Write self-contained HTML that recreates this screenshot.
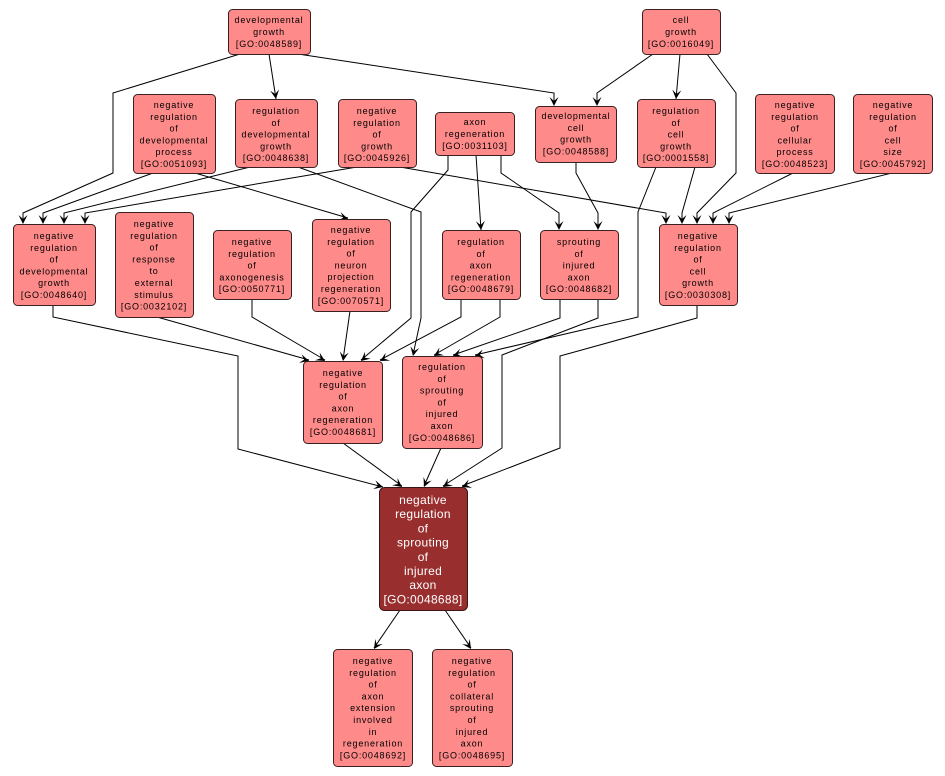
<!DOCTYPE html>
<html><head><meta charset="utf-8"><style>
html,body{margin:0;padding:0;background:#fff;}
svg{display:block;}
.n rect{fill:#ff8a8a;stroke:#3a2020;stroke-width:1;}
.n text{font-family:"Liberation Sans",Arial,sans-serif;font-size:9px;letter-spacing:0.8px;fill:#000;text-anchor:middle;}
.m rect{fill:#992e2e;stroke:#3a1515;stroke-width:1;}
.m text{font-family:"Liberation Sans",Arial,sans-serif;font-size:12px;letter-spacing:0.3px;fill:#fff;text-anchor:middle;}
.e polyline{fill:none;stroke:#000;stroke-width:1;}
.a polygon{fill:#000;}
</style></head><body>
<svg width="945" height="776" viewBox="0 0 945 776" xmlns="http://www.w3.org/2000/svg">
<g class="e">
<polyline points="240,54 113,93 113,173 23,213 23,222"/>
<polyline points="269,54 276,99"/>
<polyline points="298,54 554,93 554,104"/>
<polyline points="653,54 597,93 597,104"/>
<polyline points="680,54 676,99"/>
<polyline points="707,54 736,93 736,173 697,213 697,222"/>
<polyline points="153,173 43,213 43,222"/>
<polyline points="250,167 64,213 64,222"/>
<polyline points="357,167 85,213 85,222"/>
<polyline points="195,173 348,218"/>
<polyline points="298,167 421,212 421,318 413,355"/>
<polyline points="400,167 666,213 666,222"/>
<polyline points="448,155 448,170 411,212 411,318 361,360"/>
<polyline points="476,155 481,230"/>
<polyline points="501,155 501,173 559,213 559,228"/>
<polyline points="576,162 576,173 598,213 598,228"/>
<polyline points="695,167 682,213 682,222"/>
<polyline points="656,167 638,212 638,317 475,355"/>
<polyline points="793,173 713,213 713,222"/>
<polyline points="892,173 729,213 729,222"/>
<polyline points="53,305 53,317 238,356 238,449 383,487"/>
<polyline points="157,317 309,360"/>
<polyline points="252,299 252,317 325,360"/>
<polyline points="350,311 343,360"/>
<polyline points="461,299 461,317 380,360"/>
<polyline points="500,299 500,317 434,355"/>
<polyline points="560,299 560,318 453,355"/>
<polyline points="598,299 598,318 502,355 502,448 443,486"/>
<polyline points="697,305 697,318 560,356 560,448 462,486"/>
<polyline points="343,443 402,486"/>
<polyline points="441,448 424,486"/>
<polyline points="400,610 374,648"/>
<polyline points="445,610 471,648"/>
</g>
<g class="a">
<g transform="translate(23,224) rotate(90)"><polygon points="0,0 -9,-4.5 -5,0 -9,4.5"/></g>
<g transform="translate(43,224) rotate(90)"><polygon points="0,0 -9,-4.5 -5,0 -9,4.5"/></g>
<g transform="translate(64,224) rotate(90)"><polygon points="0,0 -9,-4.5 -5,0 -9,4.5"/></g>
<g transform="translate(85,224) rotate(90)"><polygon points="0,0 -9,-4.5 -5,0 -9,4.5"/></g>
<g transform="translate(276,99) rotate(81.2)"><polygon points="0,0 -9,-4.5 -5,0 -9,4.5"/></g>
<g transform="translate(554,106) rotate(90)"><polygon points="0,0 -9,-4.5 -5,0 -9,4.5"/></g>
<g transform="translate(597,106) rotate(90)"><polygon points="0,0 -9,-4.5 -5,0 -9,4.5"/></g>
<g transform="translate(676,99) rotate(95.1)"><polygon points="0,0 -9,-4.5 -5,0 -9,4.5"/></g>
<g transform="translate(666,224) rotate(90)"><polygon points="0,0 -9,-4.5 -5,0 -9,4.5"/></g>
<g transform="translate(682,224) rotate(90)"><polygon points="0,0 -9,-4.5 -5,0 -9,4.5"/></g>
<g transform="translate(697,224) rotate(90)"><polygon points="0,0 -9,-4.5 -5,0 -9,4.5"/></g>
<g transform="translate(713,224) rotate(90)"><polygon points="0,0 -9,-4.5 -5,0 -9,4.5"/></g>
<g transform="translate(729,224) rotate(90)"><polygon points="0,0 -9,-4.5 -5,0 -9,4.5"/></g>
<g transform="translate(348,219) rotate(16.4)"><polygon points="0,0 -9,-4.5 -5,0 -9,4.5"/></g>
<g transform="translate(481,230) rotate(86.2)"><polygon points="0,0 -9,-4.5 -5,0 -9,4.5"/></g>
<g transform="translate(559,230) rotate(90)"><polygon points="0,0 -9,-4.5 -5,0 -9,4.5"/></g>
<g transform="translate(598,230) rotate(90)"><polygon points="0,0 -9,-4.5 -5,0 -9,4.5"/></g>
<g transform="translate(413,356) rotate(101.9)"><polygon points="0,0 -9,-4.5 -5,0 -9,4.5"/></g>
<g transform="translate(434,356) rotate(149.4)"><polygon points="0,0 -9,-4.5 -5,0 -9,4.5"/></g>
<g transform="translate(453,356) rotate(160.4)"><polygon points="0,0 -9,-4.5 -5,0 -9,4.5"/></g>
<g transform="translate(475,356) rotate(166.5)"><polygon points="0,0 -9,-4.5 -5,0 -9,4.5"/></g>
<g transform="translate(309,361) rotate(16)"><polygon points="0,0 -9,-4.5 -5,0 -9,4.5"/></g>
<g transform="translate(325,361) rotate(31.1)"><polygon points="0,0 -9,-4.5 -5,0 -9,4.5"/></g>
<g transform="translate(343,361) rotate(98)"><polygon points="0,0 -9,-4.5 -5,0 -9,4.5"/></g>
<g transform="translate(361,361) rotate(139.9)"><polygon points="0,0 -9,-4.5 -5,0 -9,4.5"/></g>
<g transform="translate(380,361) rotate(151.5)"><polygon points="0,0 -9,-4.5 -5,0 -9,4.5"/></g>
<g transform="translate(383,487) rotate(14.7)"><polygon points="0,0 -9,-4.5 -5,0 -9,4.5"/></g>
<g transform="translate(402,487) rotate(36.7)"><polygon points="0,0 -9,-4.5 -5,0 -9,4.5"/></g>
<g transform="translate(424,487) rotate(113.6)"><polygon points="0,0 -9,-4.5 -5,0 -9,4.5"/></g>
<g transform="translate(443,487) rotate(146.5)"><polygon points="0,0 -9,-4.5 -5,0 -9,4.5"/></g>
<g transform="translate(462,487) rotate(158.3)"><polygon points="0,0 -9,-4.5 -5,0 -9,4.5"/></g>
<g transform="translate(374,649) rotate(123.7)"><polygon points="0,0 -9,-4.5 -5,0 -9,4.5"/></g>
<g transform="translate(471,649) rotate(56.3)"><polygon points="0,0 -9,-4.5 -5,0 -9,4.5"/></g>
</g>

<!-- nodes -->
<g class="n">
<rect x="228.5" y="9.5" width="82" height="45" rx="4"/>
<text x="269" y="23">developmental</text><text x="269" y="35">growth</text><text x="269" y="47">[GO:0048589]</text>

<rect x="642.5" y="9.5" width="78" height="45" rx="4"/>
<text x="681" y="23">cell</text><text x="681" y="35">growth</text><text x="681" y="47">[GO:0016049]</text>

<rect x="133.5" y="94.5" width="82" height="79" rx="4"/>
<text x="174" y="108">negative</text><text x="174" y="119.8">regulation</text><text x="174" y="131.6">of</text><text x="174" y="143.4">developmental</text><text x="174" y="155.2">process</text><text x="174" y="167">[GO:0051093]</text>

<rect x="235.5" y="99.5" width="82" height="68" rx="4"/>
<text x="276" y="114">regulation</text><text x="276" y="125.8">of</text><text x="276" y="137.6">developmental</text><text x="276" y="149.4">growth</text><text x="276" y="161.2">[GO:0048638]</text>

<rect x="338.5" y="99.5" width="78" height="68" rx="4"/>
<text x="377" y="114">negative</text><text x="377" y="125.8">regulation</text><text x="377" y="137.6">of</text><text x="377" y="149.4">growth</text><text x="377" y="161.2">[GO:0045926]</text>

<rect x="435.5" y="112.5" width="79" height="43" rx="4"/>
<text x="475" y="125">axon</text><text x="475" y="137">regeneration</text><text x="475" y="149">[GO:0031103]</text>

<rect x="535.5" y="106.5" width="81" height="56" rx="4"/>
<text x="576" y="119">developmental</text><text x="576" y="130.8">cell</text><text x="576" y="142.6">growth</text><text x="576" y="154.4">[GO:0048588]</text>

<rect x="637.5" y="99.5" width="78" height="68" rx="4"/>
<text x="676" y="114">regulation</text><text x="676" y="125.8">of</text><text x="676" y="137.6">cell</text><text x="676" y="149.4">growth</text><text x="676" y="161.2">[GO:0001558]</text>

<rect x="755.5" y="94.5" width="79" height="79" rx="4"/>
<text x="795" y="108">negative</text><text x="795" y="119.8">regulation</text><text x="795" y="131.6">of</text><text x="795" y="143.4">cellular</text><text x="795" y="155.2">process</text><text x="795" y="167">[GO:0048523]</text>

<rect x="853.5" y="94.5" width="79" height="79" rx="4"/>
<text x="893" y="108">negative</text><text x="893" y="119.8">regulation</text><text x="893" y="131.6">of</text><text x="893" y="143.4">cell</text><text x="893" y="155.2">size</text><text x="893" y="167">[GO:0045792]</text>

<rect x="13.5" y="224.5" width="82" height="81" rx="4"/>
<text x="54" y="239">negative</text><text x="54" y="250.8">regulation</text><text x="54" y="262.6">of</text><text x="54" y="274.4">developmental</text><text x="54" y="286.2">growth</text><text x="54" y="298">[GO:0048640]</text>

<rect x="115.5" y="212.5" width="78" height="105" rx="4"/>
<text x="154" y="227">negative</text><text x="154" y="238.8">regulation</text><text x="154" y="250.6">of</text><text x="154" y="262.4">response</text><text x="154" y="274.2">to</text><text x="154" y="286">external</text><text x="154" y="297.8">stimulus</text><text x="154" y="309.6">[GO:0032102]</text>

<rect x="213.5" y="230.5" width="78" height="69" rx="4"/>
<text x="252" y="245">negative</text><text x="252" y="256.8">regulation</text><text x="252" y="268.6">of</text><text x="252" y="280.4">axonogenesis</text><text x="252" y="292.2">[GO:0050771]</text>

<rect x="312.5" y="219.5" width="78" height="92" rx="4"/>
<text x="351" y="233">negative</text><text x="351" y="244.8">regulation</text><text x="351" y="256.6">of</text><text x="351" y="268.4">neuron</text><text x="351" y="280.2">projection</text><text x="351" y="292">regeneration</text><text x="351" y="303.8">[GO:0070571]</text>

<rect x="442.5" y="230.5" width="78" height="69" rx="4"/>
<text x="481" y="245">regulation</text><text x="481" y="256.8">of</text><text x="481" y="268.6">axon</text><text x="481" y="280.4">regeneration</text><text x="481" y="292.2">[GO:0048679]</text>

<rect x="540.5" y="230.5" width="78" height="69" rx="4"/>
<text x="579" y="245">sprouting</text><text x="579" y="256.8">of</text><text x="579" y="268.6">injured</text><text x="579" y="280.4">axon</text><text x="579" y="292.2">[GO:0048682]</text>

<rect x="659.5" y="224.5" width="78" height="81" rx="4"/>
<text x="698" y="239">negative</text><text x="698" y="250.8">regulation</text><text x="698" y="262.6">of</text><text x="698" y="274.4">cell</text><text x="698" y="286.2">growth</text><text x="698" y="298">[GO:0030308]</text>

<rect x="303.5" y="361.5" width="79" height="82" rx="4"/>
<text x="343" y="376">negative</text><text x="343" y="387.8">regulation</text><text x="343" y="399.6">of</text><text x="343" y="411.4">axon</text><text x="343" y="423.2">regeneration</text><text x="343" y="435">[GO:0048681]</text>

<rect x="402.5" y="356.5" width="80" height="92" rx="4"/>
<text x="442" y="370">regulation</text><text x="442" y="381.8">of</text><text x="442" y="393.6">sprouting</text><text x="442" y="405.4">of</text><text x="442" y="417.2">injured</text><text x="442" y="429">axon</text><text x="442" y="440.8">[GO:0048686]</text>

<rect x="333.5" y="649.5" width="79" height="117" rx="4"/>
<text x="373" y="664">negative</text><text x="373" y="675.8">regulation</text><text x="373" y="687.6">of</text><text x="373" y="699.4">axon</text><text x="373" y="711.2">extension</text><text x="373" y="723">involved</text><text x="373" y="734.8">in</text><text x="373" y="746.6">regeneration</text><text x="373" y="758.4">[GO:0048692]</text>

<rect x="432.5" y="649.5" width="80" height="117" rx="4"/>
<text x="472" y="664">negative</text><text x="472" y="675.8">regulation</text><text x="472" y="687.6">of</text><text x="472" y="699.4">collateral</text><text x="472" y="711.2">sprouting</text><text x="472" y="723">of</text><text x="472" y="734.8">injured</text><text x="472" y="746.6">axon</text><text x="472" y="758.4">[GO:0048695]</text>
</g>

<g class="m">
<rect x="379.5" y="487.5" width="88" height="123" rx="5"/>
<text x="423" y="504">negative</text><text x="423" y="518.2">regulation</text><text x="423" y="532.4">of</text><text x="423" y="546.6">sprouting</text><text x="423" y="560.8">of</text><text x="423" y="575">injured</text><text x="423" y="589.2">axon</text><text x="423" y="603.4">[GO:0048688]</text>
</g>
</svg>
</body></html>
